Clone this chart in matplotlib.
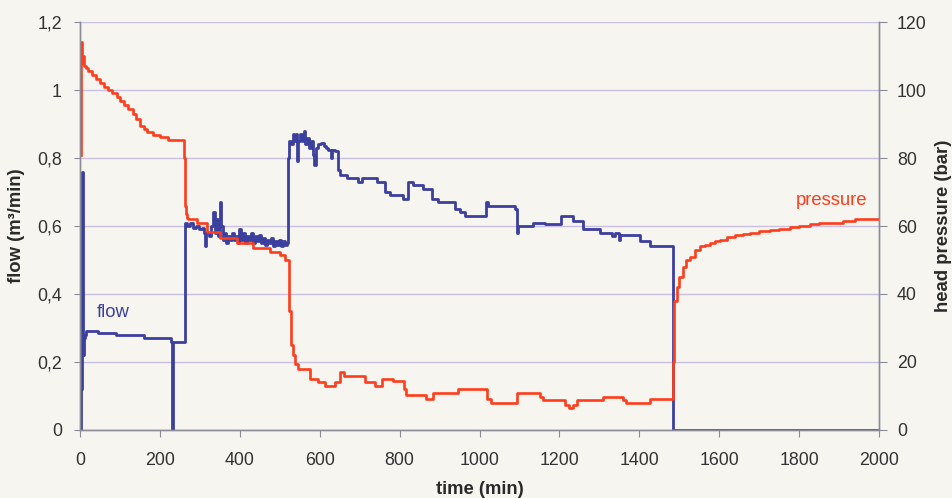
import numpy as np
import matplotlib
matplotlib.use("Agg")
import matplotlib.pyplot as plt

plt.rcParams['font.family'] = ['Liberation Sans', 'DejaVu Sans']

# flow (m3/min), step values
flow_t = [0, 2, 4, 6, 7, 9, 12, 15, 45, 90, 160, 229, 230, 232, 261,
          263, 268, 275, 283, 290, 298, 305, 310, 313, 316, 322, 328, 333, 337,
          342, 346, 350, 354, 358, 362, 366, 370, 375, 380, 385, 390, 395, 398,
          402, 407, 412, 417, 422, 427, 432, 437, 442, 447, 452, 457, 462, 467,
          472, 477, 482, 487, 492, 497, 502, 507, 512, 517,
          520, 522, 528, 532, 536, 540, 543, 546, 550, 555, 560, 564, 568, 572,
          577, 582, 586, 590, 595, 603, 610, 616, 622, 628, 632, 638, 646, 651,
          668, 696, 706, 744, 763, 776, 809, 821, 834, 859, 881, 896, 939, 951,
          964, 1016, 1022, 1089, 1094, 1097, 1134, 1164, 1205, 1235, 1258, 1301,
          1331, 1340, 1348, 1352, 1401, 1427, 1485, 2000]
flow_v = [0, 0.12, 0.2, 0.76, 0.22, 0.27, 0.28, 0.29, 0.285, 0.28, 0.27, 0.26, 0.0, 0.26, 0.26,
          0.61, 0.60, 0.61, 0.595, 0.60, 0.59, 0.595, 0.58, 0.54, 0.58, 0.57, 0.60, 0.64, 0.58,
          0.62, 0.57, 0.67, 0.60, 0.56, 0.58, 0.55, 0.57, 0.56, 0.58, 0.56, 0.57, 0.55, 0.59,
          0.56, 0.58, 0.55, 0.57, 0.56, 0.58, 0.55, 0.57, 0.555, 0.575, 0.55, 0.565, 0.545, 0.56,
          0.55, 0.565, 0.54, 0.555, 0.545, 0.56, 0.54, 0.555, 0.545, 0.55,
          0.80, 0.85, 0.84, 0.87, 0.85, 0.87, 0.79, 0.85, 0.87, 0.85, 0.88, 0.84, 0.86, 0.83,
          0.85, 0.81, 0.78, 0.83, 0.84, 0.845, 0.835, 0.83, 0.825, 0.80, 0.825, 0.82, 0.765, 0.75,
          0.74, 0.73, 0.74, 0.73, 0.70, 0.69, 0.68, 0.73, 0.72, 0.71, 0.68, 0.67, 0.65, 0.64,
          0.63, 0.67, 0.66, 0.65, 0.58, 0.60, 0.61, 0.605, 0.63, 0.615, 0.59, 0.58,
          0.57, 0.58, 0.56, 0.575, 0.555, 0.54, 0.0, 0.0]

# head pressure (bar)
pres_t = [2, 3, 5, 8, 11, 15, 20, 30, 40, 50, 60, 70, 80, 92, 100, 110, 120,
          133, 140, 150, 160, 167, 183, 200, 217, 221, 258, 260, 262, 264, 266,
          268, 270, 293, 318, 350, 393, 433, 476, 500, 513, 521, 524, 527, 532,
          538, 546, 576, 596, 613, 638, 651, 660, 681, 713, 738, 756, 783, 805,
          810, 815, 866, 884, 947, 1019, 1030, 1095, 1151, 1160, 1213, 1225,
          1235, 1244, 1310, 1359, 1367, 1427, 1485, 1486, 1488, 1494, 1500,
          1509, 1518, 1527, 1540, 1552, 1565, 1577, 1590, 1602, 1620, 1640,
          1660, 1677, 1700, 1727, 1750, 1777, 1800, 1827, 1850, 1877, 1910,
          1940, 2000]
pres_v = [81, 114, 108, 110, 107, 106.5, 105.5, 104.4, 103.2, 102, 101, 100, 99, 98, 96.8, 95.5, 94.5,
          93, 91.5, 89.5, 88.5, 87.6, 86.8, 86.2, 86.2, 85.3, 85.3, 80, 72, 66, 63.5,
          62.4, 62, 61, 58.3, 56.5, 55, 53.5, 52.4, 51.5, 50, 50, 35, 25, 22,
          19.5, 18, 15, 14, 13, 14, 17, 16, 16, 14, 13, 15, 14.5, 14.5,
          12, 10.3, 9, 11, 12, 9, 8, 11, 9.8, 8.8, 7.4, 6.5,
          7.4, 8.8, 9.8, 8.8, 8, 9, 20, 30, 38, 42, 45,
          48, 50, 51, 53, 54, 54.5, 55, 55.5, 56, 56.7, 57.4,
          57.7, 58, 58.4, 58.8, 59.2, 59.7, 60, 60.6, 60.8, 61, 61.5,
          62, 62]

flow_ticks = [0, 0.2, 0.4, 0.6, 0.8, 1.0, 1.2]
flow_tick_labels = ['0', '0,2', '0,4', '0,6', '0,8', '1', '1,2']
pres_ticks = [0, 20, 40, 60, 80, 100, 120]
time_ticks = [0, 200, 400, 600, 800, 1000, 1200, 1400, 1600, 1800, 2000]

bg = '#f6f5f0'
blue = '#3b3f9e'
red = '#ff3d1c'
spine_col = '#8c8c98'
text_col = '#333333'

fig = plt.figure(figsize=(9.52, 4.98), dpi=100, facecolor=bg)
ax = fig.add_axes([80 / 952, 1 - 430 / 498, 799 / 952, 408 / 498])
ax.set_facecolor(bg)
ax2 = ax.twinx()

ax.plot(flow_t, flow_v, drawstyle='steps-post', color=blue, lw=2.0)
ax2.plot(pres_t, pres_v, drawstyle='steps-post', color=red, lw=1.9)

ax.set_xlim(0, 2000)
ax.set_ylim(0, 1.2)
ax2.set_ylim(0, 120)

ax.set_xticks(time_ticks)
ax.set_yticks(flow_ticks)
ax.set_yticklabels(flow_tick_labels)
ax2.set_yticks(pres_ticks)

ax.yaxis.grid(True, color='#cbbfe2', lw=1.0)
ax.set_axisbelow(True)

for a in (ax, ax2):
    a.spines['top'].set_visible(False)
    for s in ('left', 'right', 'bottom'):
        a.spines[s].set_color(spine_col)
        a.spines[s].set_linewidth(1.0)
ax.spines['bottom'].set_color('#9a9ac8')

ax.tick_params(axis='x', direction='out', length=5, color=spine_col, pad=11,
               labelsize=12.8, labelcolor=text_col)
ax.tick_params(axis='y', direction='out', length=4, color=spine_col, pad=9,
               labelsize=12.8, labelcolor=text_col)
ax2.tick_params(axis='y', direction='out', length=6, color=spine_col, pad=7,
                labelsize=12.8, labelcolor=text_col)

ax.set_xlabel('time (min)', fontsize=13.3, fontweight='bold', color='#2a2a2a')
ax.set_ylabel('flow (m³/min)', fontsize=13.3, fontweight='bold', color='#2a2a2a')
ax2.set_ylabel('head pressure (bar)', fontsize=13.3, fontweight='bold', color='#2a2a2a')
ax.xaxis.set_label_coords(0.5, -0.125)
ax.yaxis.set_label_coords(-0.069, 0.5)
ax2.yaxis.set_label_coords(1.07, 0.5)

ax.text(83, 0.347, 'flow', color=blue, fontsize=13.3, ha='center', va='center')
ax2.text(1882, 67.6, 'pressure', color=red, fontsize=13.2, ha='center', va='center')

fig.savefig('out.png', dpi=100, facecolor=bg)
